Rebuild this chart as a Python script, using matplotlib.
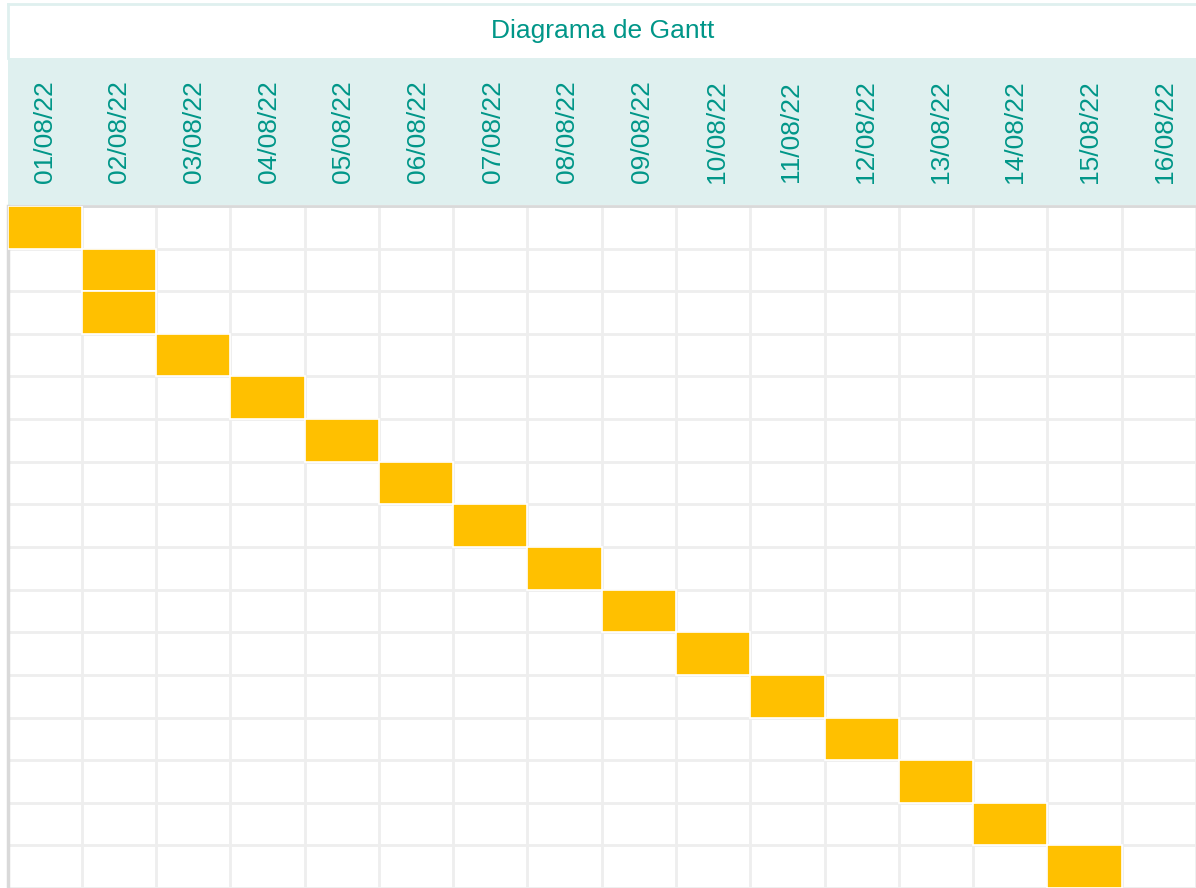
import matplotlib
matplotlib.use("Agg")
import matplotlib.pyplot as plt

# schedule: day of August each task starts on, and its length in days
start_day = [1, 2, 2, 3, 4, 5, 6, 7, 8, 9, 10, 11, 12, 13, 14, 15]
duration = [1] * len(start_day)
dates = ["%02d/08/22" % d for d in range(1, 17)]

teal = "#009688"
header_bg = "#dff0ef"
grid_col = "#eeeeee"
bar_col = "#ffc000"

plt.rcParams["font.family"] = ["Liberation Sans", "DejaVu Sans"]

W, H = 1196, 888
fig = plt.figure(figsize=(W / 100, H / 100), dpi=100)

x0 = 7.5
col_w = 74.65
row_h = 42.73
ncols = (W - x0) / col_w

def box(left, top, right, bottom):
    return [left / W, 1 - bottom / H, (right - left) / W, (bottom - top) / H]

# title band
tax = fig.add_axes(box(x0, 4, W + 2, 58))
tax.set_xticks([])
tax.set_yticks([])
for s in ["right", "bottom"]:
    tax.spines[s].set_visible(False)
for s in ["top", "left"]:
    tax.spines[s].set_color(header_bg)
    tax.spines[s].set_linewidth(2)
tax.text(0.5, 0.5, "Diagrama de Gantt", color=teal, fontsize=19,
         ha="center", va="center", transform=tax.transAxes)

# date header
hax = fig.add_axes(box(x0, 58, W, 205))
hax.set_facecolor(header_bg)
hax.set_xlim(0, ncols)
hax.set_ylim(0, 1)
hax.set_xticks([])
hax.set_yticks([])
for s in hax.spines.values():
    s.set_visible(False)
for i, d in enumerate(dates):
    hax.text(i + 0.5, 0.5, d, rotation=90, color=teal, fontsize=19,
             ha="center", va="center", rotation_mode="anchor")

# task grid
ax = fig.add_axes(box(x0, 206, W, H))
nrows = (H - 206) / row_h
ax.set_xlim(0, ncols)
ax.set_ylim(nrows, 0)
ax.set_xticks(range(0, 17))
ax.set_yticks(range(0, 17))
ax.tick_params(length=0, labelbottom=False, labelleft=False)
ax.grid(True, color=grid_col, linewidth=2, zorder=0)
ax.set_axisbelow(True)
for s in ["right", "bottom"]:
    ax.spines[s].set_visible(False)
ax.spines["top"].set_color("#d9d9d9")
ax.spines["top"].set_linewidth(2)
ax.spines["left"].set_color("#d9d9d9")
ax.spines["left"].set_linewidth(2.5)

rows = list(range(len(start_day)))
ax.barh(rows, duration, left=[d - 1 for d in start_day], height=1,
        align="edge", color=bar_col, edgecolor="white", linewidth=1.2,
        zorder=3)

fig.savefig("out.png", dpi=100)
